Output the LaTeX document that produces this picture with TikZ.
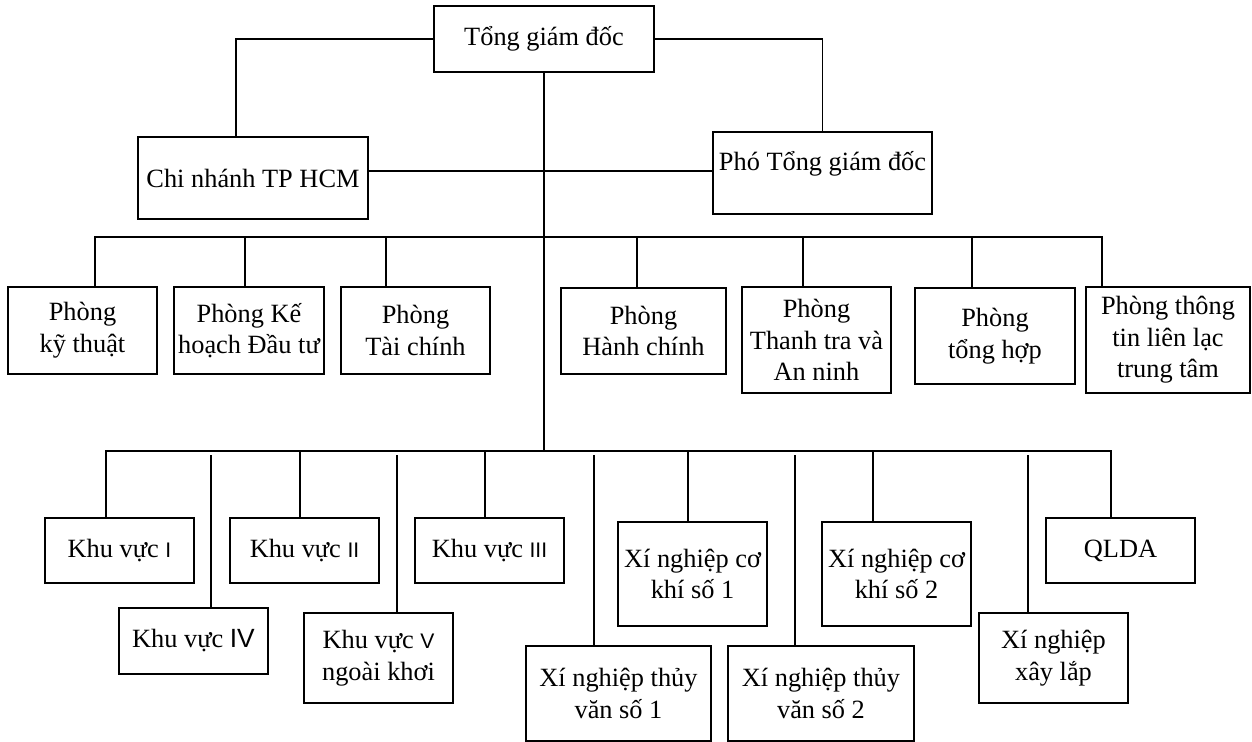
\documentclass[tikz,border=0pt]{standalone}
\usepackage{fontspec}
\setmainfont{Liberation Serif}
\setsansfont{Liberation Sans}
\usetikzlibrary{positioning, calc}

\newcommand{\sokv}[1]{{\sffamily\fontsize{12}{14}\selectfont #1}}

\begin{document}
\begin{tikzpicture}[x=0.02cm,y=-0.02cm,line width=1pt,
		font=\fontsize{15}{18}\selectfont,
		box/.style={draw,align=center,inner sep=1pt,line width=1.1pt}]
		\useasboundingbox (0,0) rectangle (1252,742);

		\node(tgd) at (544,39)[box,minimum width=4.4cm,minimum height=1.32cm]{Tổng giám đốc};
		\node(cn) at (253,178)[box,minimum width=4.6cm,minimum height=1.64cm]{Chi nhánh TP HCM};
		\node(pho) at (822.5,173)[box,minimum width=4.38cm,minimum height=1.64cm,label={[yshift=0.18cm]center:Phó Tổng giám đốc}]{};

		% cac phong
		\node(kt) at (82.5,330.5)[box,minimum width=2.98cm,minimum height=1.74cm]{Phòng\\kỹ thuật};
		\node(kh) at (249,330.5)[box,minimum width=3cm,minimum height=1.74cm]{Phòng Kế\\hoạch Đầu tư};
		\node(tc) at (415.5,330.5)[box,minimum width=2.98cm,minimum height=1.74cm]{Phòng\\Tài chính};
		\node(hc) at (643.5,331)[box,minimum width=3.3cm,minimum height=1.72cm]{Phòng\\Hành chính};
		\node(tt) at (816.5,340)[box,minimum width=2.98cm,minimum height=2.12cm]{Phòng\\Thanh tra và\\An ninh};
		\node(th) at (995,336)[box,minimum width=3.2cm,minimum height=1.92cm]{Phòng\\tổng hợp};
		\node(ttll) at (1168,340)[box,minimum width=3.28cm,minimum height=2.12cm]{Phòng thông\\tin liên lạc\\trung tâm};

		% khu vuc va xi nghiep
		\node(kv1) at (119.5,550.5)[box,minimum width=2.98cm,minimum height=1.3cm]{Khu vực \sokv{I}};
		\node(kv4) at (193.5,641)[box,minimum width=2.98cm,minimum height=1.32cm]{Khu vực {\sffamily IV}};
		\node(kv2) at (304.5,550.5)[box,minimum width=2.98cm,minimum height=1.3cm]{Khu vực \sokv{II}};
		\node(kv5) at (378.5,658)[box,minimum width=2.98cm,minimum height=1.8cm]{Khu vực \sokv{V}\\ngoài khơi};
		\node(kv3) at (489.5,550.5)[box,minimum width=2.98cm,minimum height=1.3cm]{Khu vực \sokv{III}};
		\node(tv1) at (618.5,693.5)[box,minimum width=3.7cm,minimum height=1.9cm]{Xí nghiệp thủy\\văn số 1};
		\node(ck1) at (692.5,574)[box,minimum width=2.98cm,minimum height=2.08cm]{Xí nghiệp cơ\\khí số 1};
		\node(tv2) at (821,693.5)[box,minimum width=3.72cm,minimum height=1.9cm]{Xí nghiệp thủy\\văn số 2};
		\node(ck2) at (896.5,574)[box,minimum width=2.98cm,minimum height=2.08cm]{Xí nghiệp cơ\\khí số 2};
		\node(xl) at (1053.5,658)[box,minimum width=2.98cm,minimum height=1.8cm]{Xí nghiệp\\xây lắp};
		\node(qlda) at (1120.5,550.5)[box,minimum width=2.98cm,minimum height=1.3cm]{QLDA};

		\coordinate(bus1) at (544,237);
		\coordinate(bus2) at (544,451);
		\coordinate(hole) at (544,455);
		\coordinate(cnr) at ([yshift=0.14cm]cn.east);

		\draw (tgd.west) -| ([xshift=-0.34cm]cn.north);
		\draw (tgd.east) -| (pho.north);
		\draw (cnr) -- (cnr -| pho.west);
		\draw (tgd.south) -- (bus2);
		\foreach \n/\d in {kt/12.5,kh/-4,tc/-29.5,hc/-6.5,tt/-13.5,th/-23,ttll/-66}
			\draw ([xshift=\d*0.02cm]\n.north) |- (bus1);
		\foreach \n/\d in {kv1/-13.5,kv2/-4.5,kv3/-4.5,ck1/-4.5,ck2/-23.5,qlda/-9.5}
			\draw ([xshift=\d*0.02cm]\n.north) |- (bus2);
		\foreach \n/\d in {kv4/17.5,kv5/18.5,tv1/-24.5,tv2/-26,xl/-25.5}{
			\coordinate(d) at ([xshift=\d*0.02cm]\n.north);
			\draw (d) -- (d |- hole);
		}

	\end{tikzpicture}
\end{document}
